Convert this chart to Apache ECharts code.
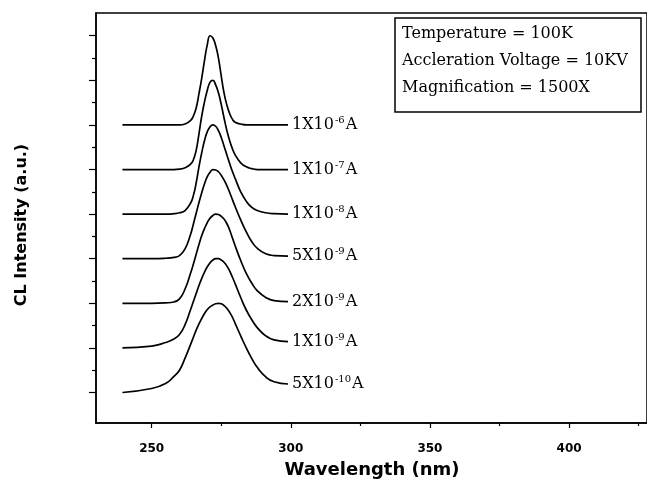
<!DOCTYPE html>
<html>
<head>
<meta charset="utf-8">
<script src="https://cdn.jsdelivr.net/npm/echarts@6/dist/echarts.min.js"></script>
<style>
  html, body { margin: 0; padding: 0; background: #fff; }
  #chart { width: 647px; height: 482px; }
</style>
</head>
<body>
<div id="chart"></div>
<script>
// wavelength grid (nm) shared by all spectra
let wavelengths = [239.5, 250, 255, 258, 260, 262, 264, 265, 266, 267, 268, 269, 270, 271, 272,
    273, 274, 275, 276, 277, 278, 279, 280, 282, 284, 286, 288, 291, 294, 299];

// CL intensity, relative to its own baseline (a.u.)
let curve1e6 = [0, 0, 0, 0, 0, 0.02, 0.1, 0.2, 0.38, 0.7, 1.05, 1.45, 1.8, 2.0, 1.95,
    1.78, 1.5, 1.1, 0.72, 0.45, 0.26, 0.13, 0.06, 0.02, 0, 0, 0, 0, 0, 0];
let curve1e7 = [0, 0, 0, 0, 0.01, 0.04, 0.12, 0.22, 0.43, 0.8, 1.2, 1.52, 1.78, 1.96, 2.0,
    1.9, 1.72, 1.46, 1.16, 0.88, 0.65, 0.47, 0.33, 0.15, 0.06, 0.02, 0, 0, 0, 0];
let curve1e8 = [0, 0, 0, 0.01, 0.03, 0.08, 0.25, 0.42, 0.7, 1.06, 1.38, 1.65, 1.85, 1.96, 2.0,
    1.97, 1.87, 1.72, 1.53, 1.33, 1.14, 0.96, 0.8, 0.5, 0.29, 0.15, 0.08, 0.03, 0.01, 0];
let curve5e9 = [0, 0, 0.01, 0.03, 0.07, 0.22, 0.55, 0.78, 1.02, 1.26, 1.48, 1.68, 1.84, 1.94, 2.0,
    1.99, 1.95, 1.87, 1.77, 1.64, 1.49, 1.33, 1.17, 0.87, 0.6, 0.38, 0.23, 0.11, 0.07, 0.06];
let curve2e9 = [0, 0, 0.01, 0.03, 0.1, 0.32, 0.68, 0.88, 1.1, 1.32, 1.52, 1.68, 1.81, 1.91, 1.97,
    2.0, 1.99, 1.95, 1.89, 1.79, 1.65, 1.47, 1.29, 0.96, 0.67, 0.45, 0.28, 0.13, 0.06, 0.04];
let curve1e9 = [0, 0.04, 0.12, 0.2, 0.3, 0.52, 0.86, 1.04, 1.22, 1.4, 1.56, 1.7, 1.82, 1.91, 1.97,
    2.0, 2.0, 1.97, 1.92, 1.84, 1.73, 1.59, 1.44, 1.13, 0.85, 0.63, 0.45, 0.27, 0.18, 0.14];
let curve5e10 = [0, 0.09, 0.2, 0.36, 0.5, 0.77, 1.08, 1.24, 1.4, 1.54, 1.66, 1.77, 1.86, 1.92, 1.96,
    1.99, 2.0, 1.99, 1.95, 1.89, 1.8, 1.69, 1.55, 1.27, 1.0, 0.76, 0.56, 0.35, 0.24, 0.19];

let curves = [curve1e6, curve1e7, curve1e8, curve5e9, curve2e9, curve1e9, curve5e10];
// vertical offset of each curve in the stacked plot
let offsets = [6, 5, 4, 3, 2, 1, 0];
// beam current labels: mantissa and exponent
let mantissas = ['1', '1', '1', '5', '2', '1', '5'];
let exponents = ['-6', '-7', '-8', '-9', '-9', '-9', '-10'];

let xTicks = [250, 300, 350, 400];
let xMinorTicks = [275, 325, 375, 425];
let yTicks = [0, 1, 2, 3, 4, 5, 6, 7, 8];
let yMinorTicks = [0.5, 1.5, 2.5, 3.5, 4.5, 5.5, 6.5, 7.5];

let infoLines = ['Temperature = 100K', 'Accleration Voltage = 10KV', 'Magnification = 1500X'];

function setChart() {
    let myChart = echarts.init(document.getElementById('chart'));

    let series = [];
    for (let i = 0; i < curves.length; i++) {
        let points = [];
        for (let j = 0; j < wavelengths.length; j++) {
            points.push([wavelengths[j], curves[i][j] + offsets[i]]);
        }
        series.push({
            type: 'line',
            data: points,
            smooth: 0.5,
            symbol: 'none',
            silent: true,
            lineStyle: { color: '#000', width: 1.7 },
            endLabel: {
                show: true,
                distance: 4,
                formatter: '{b|' + mantissas[i] + 'X10}{s|' + exponents[i] + '}{b|A}',
                rich: {
                    b: { fontFamily: 'DejaVu Serif', fontSize: 16, color: '#000' },
                    s: { fontFamily: 'DejaVu Serif', fontSize: 10, color: '#000', padding: [0, 1, 9, 1] }
                }
            }
        });
    }

    let yMin = -0.684, yMax = 8.51;

    let option = {
        animation: false,
        grid: {
            left: 96, right: -2, top: 13, bottom: 59,
            show: true, borderColor: '#000', borderWidth: 1.5, backgroundColor: 'transparent'
        },
        xAxis: [{
            type: 'value', min: 230, max: 428,
            axisLine: { onZero: false, lineStyle: { color: '#000', width: 1.5 } },
            axisTick: { customValues: xTicks, length: 5, lineStyle: { color: '#000', width: 1.2 } },
            axisLabel: {
                customValues: xTicks, margin: 20, color: '#000',
                fontFamily: 'DejaVu Sans', fontWeight: 'bold', fontSize: 12
            },
            splitLine: { show: false }
        }, {
            type: 'value', min: 230, max: 428, position: 'bottom',
            axisLine: { show: false, onZero: false },
            axisTick: { customValues: xMinorTicks, length: 3, lineStyle: { color: '#000', width: 1.2 } },
            axisLabel: { show: false },
            splitLine: { show: false }
        }],
        yAxis: [{
            type: 'value', min: yMin, max: yMax,
            axisLine: { show: true, onZero: false, lineStyle: { color: '#000', width: 1.5 } },
            axisTick: { show: true, customValues: yTicks, length: 7, lineStyle: { color: '#000', width: 1.2 } },
            axisLabel: { show: false },
            splitLine: { show: false }
        }, {
            type: 'value', min: yMin, max: yMax, position: 'left',
            axisLine: { show: false, onZero: false },
            axisTick: { show: true, customValues: yMinorTicks, length: 4, lineStyle: { color: '#000', width: 1.2 } },
            axisLabel: { show: false },
            splitLine: { show: false }
        }],
        series: series,
        graphic: [
            {
                type: 'rect',
                shape: { x: 395, y: 18, width: 246, height: 94 },
                style: { fill: '#fff', stroke: '#000', lineWidth: 1.5 }
            },
            {
                type: 'text', x: 402, y: 34,
                style: { text: infoLines[0], font: '16px "DejaVu Serif"', fill: '#000', verticalAlign: 'middle' }
            },
            {
                type: 'text', x: 402, y: 61,
                style: { text: infoLines[1], font: '16px "DejaVu Serif"', fill: '#000', verticalAlign: 'middle' }
            },
            {
                type: 'text', x: 402, y: 88,
                style: { text: infoLines[2], font: '16px "DejaVu Serif"', fill: '#000', verticalAlign: 'middle' }
            },
            {
                type: 'text', x: 372, y: 470,
                style: {
                    text: 'Wavelength (nm)', font: 'bold 18px "DejaVu Sans"', fill: '#000',
                    align: 'center', verticalAlign: 'middle'
                }
            },
            {
                type: 'text', x: 22, y: 225, rotation: Math.PI / 2,
                style: {
                    text: 'CL Intensity (a.u.)', font: 'bold 16px "DejaVu Sans"', fill: '#000',
                    align: 'center', verticalAlign: 'middle'
                }
            }
        ]
    };

    myChart.setOption(option);
}

window.onload = function () {
    setChart();
}
</script>
</body>
</html>
